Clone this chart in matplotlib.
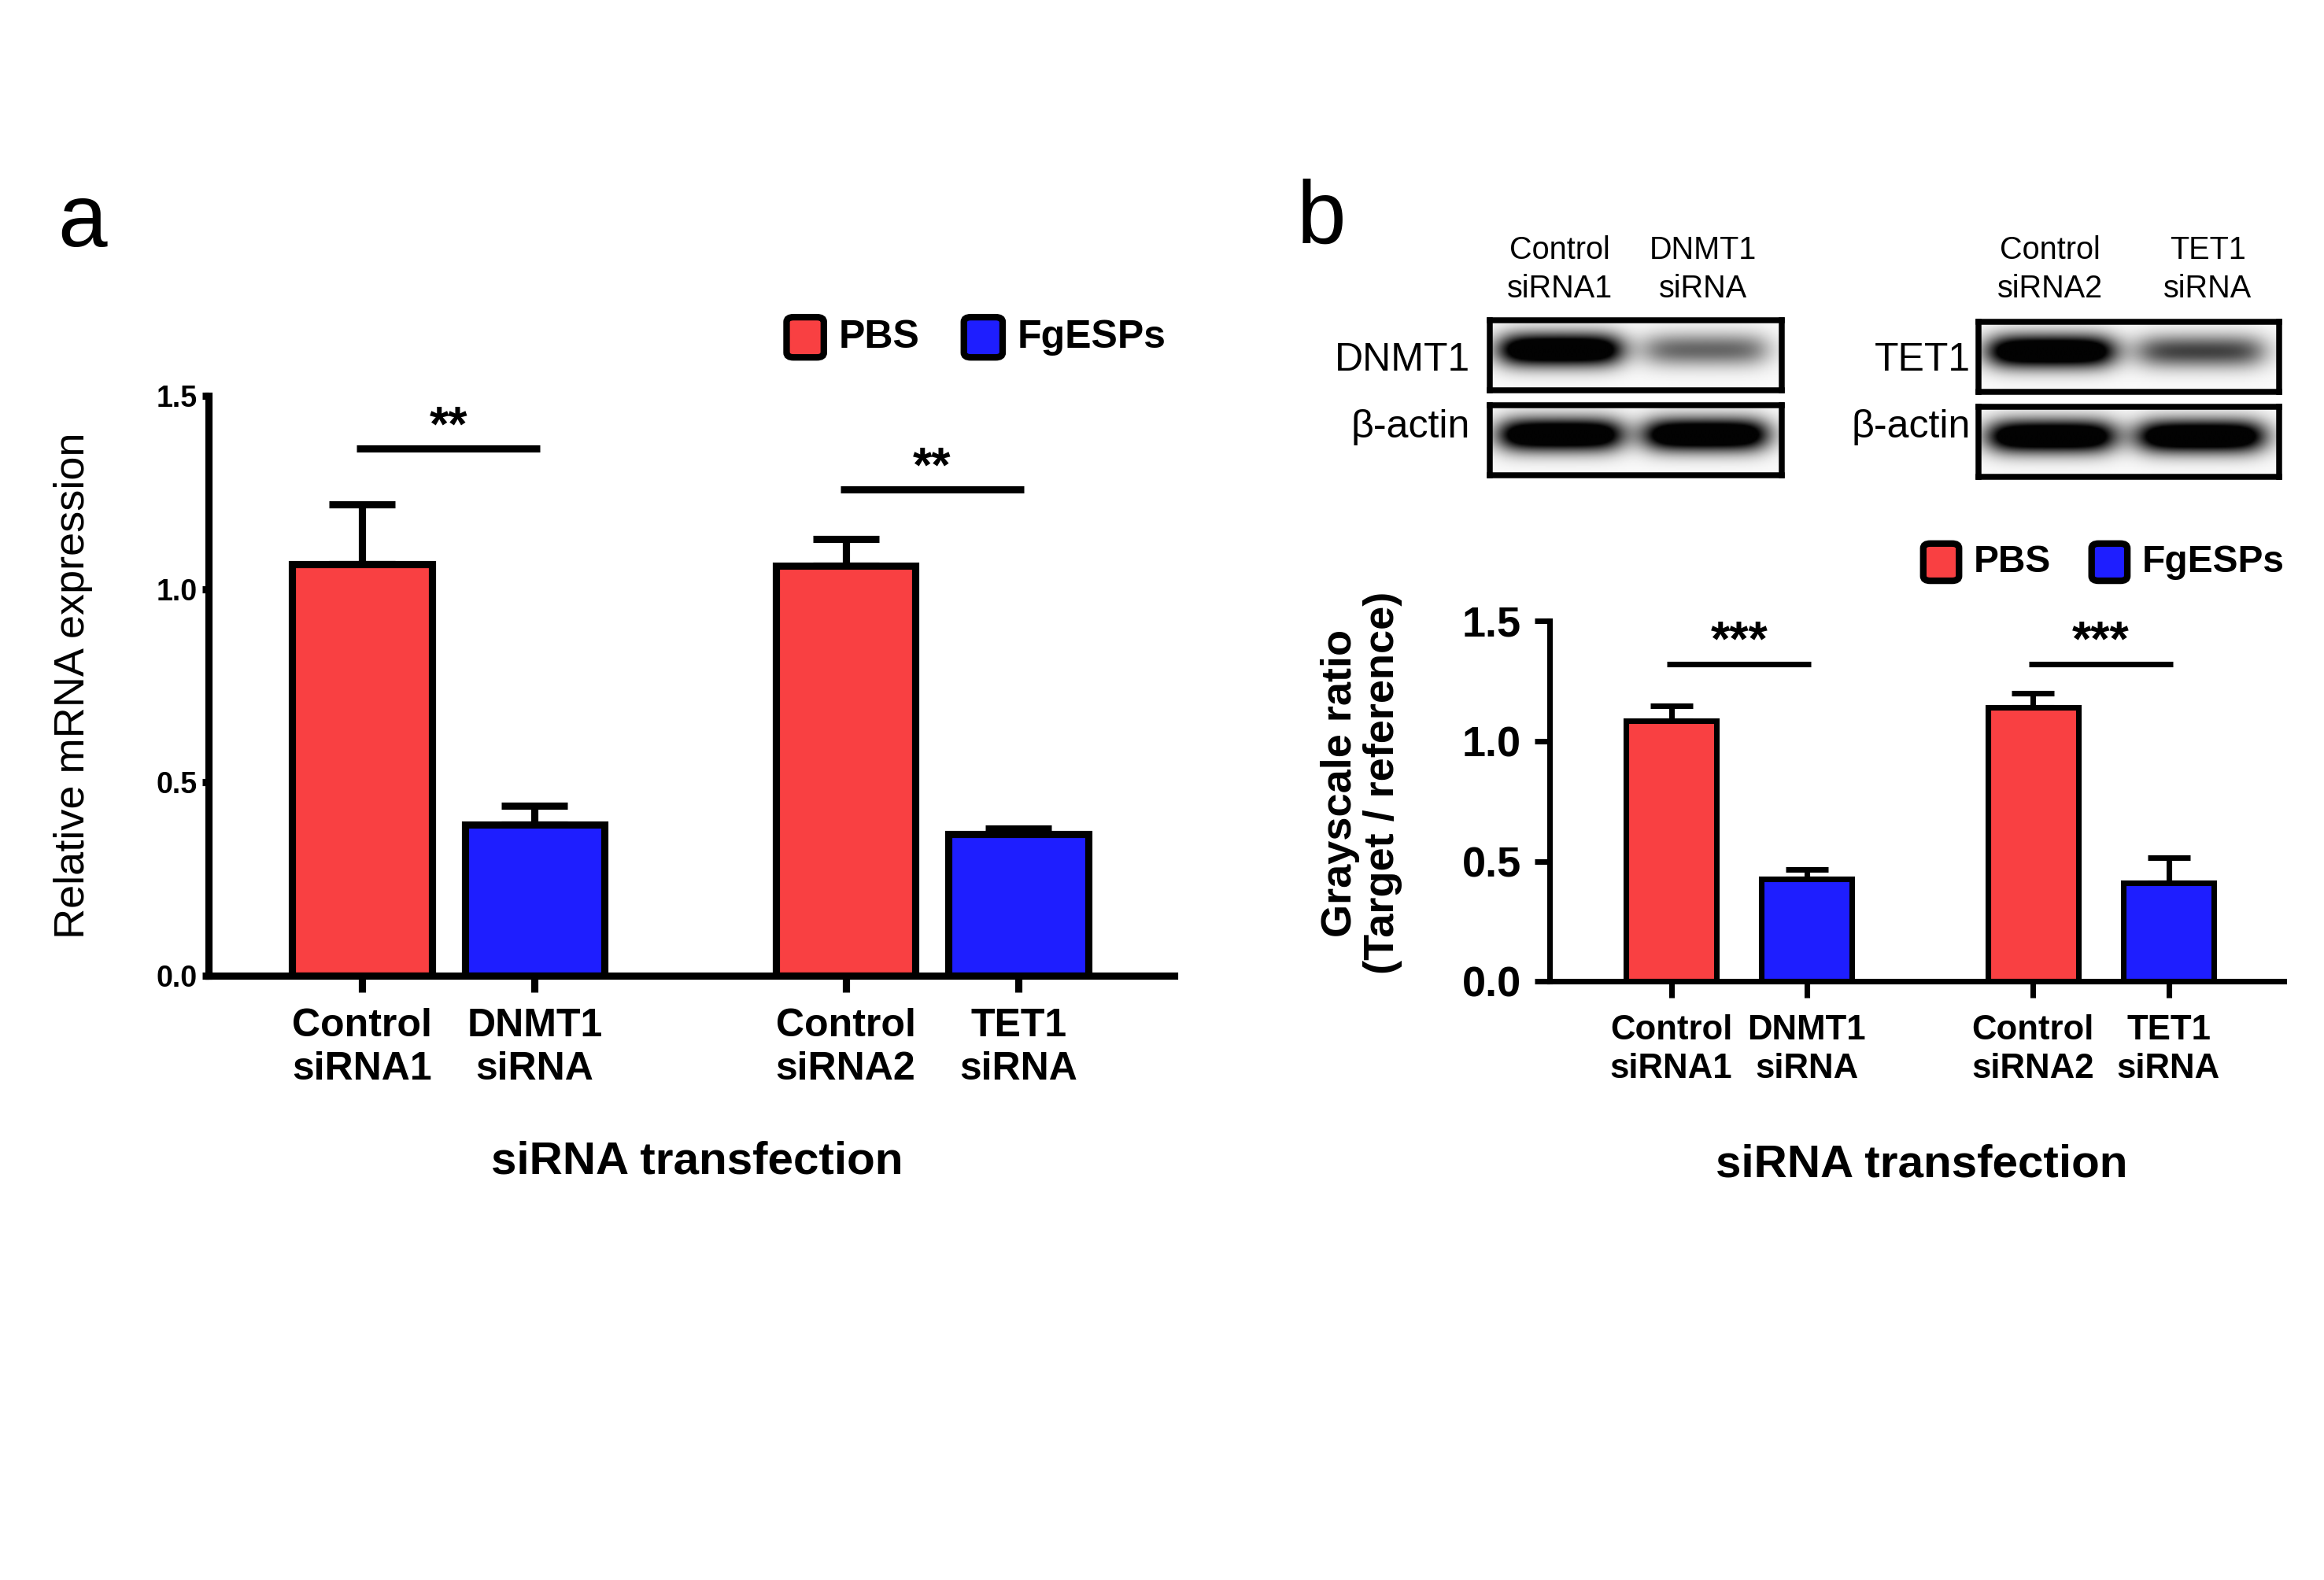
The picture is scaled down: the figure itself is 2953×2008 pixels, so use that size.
"""siRNA knockdown figure: qPCR bars (a) and western blot quantification (b)."""

import matplotlib

matplotlib.use("Agg")
import matplotlib.pyplot as plt
import numpy as np
from matplotlib.patches import FancyBboxPatch

plt.rcParams["font.family"] = ["Liberation Sans", "DejaVu Sans"]

# ---- data -------------------------------------------------------------
categories = ["Control\nsiRNA1", "DNMT1\nsiRNA", "Control\nsiRNA2", "TET1\nsiRNA"]
groups = ["PBS", "FgESPs", "PBS", "FgESPs"]

mrna_mean = [1.065, 0.39, 1.06, 0.365]
mrna_err = [0.155, 0.05, 0.07, 0.015]
mrna_sig = ["**", "**"]
mrna_sig_y = [1.365, 1.258]

gray_mean = [1.085, 0.428, 1.14, 0.41]
gray_err = [0.062, 0.037, 0.06, 0.105]
gray_sig = ["***", "***"]
gray_sig_y = [1.32, 1.32]

yticks = [0.0, 0.5, 1.0, 1.5]

blot_lanes_dnmt1 = ["Control\nsiRNA1", "DNMT1\nsiRNA"]
blot_lanes_tet1 = ["Control\nsiRNA2", "TET1\nsiRNA"]
dnmt1_band = [1.0, 0.4]
tet1_band = [1.0, 0.5]
actin_band_1 = [1.0, 1.0]
actin_band_2 = [1.0, 1.0]

RED = "#F94042"
BLUE = "#1E1EFF"
colors = {"PBS": RED, "FgESPs": BLUE}

W, H = 1560.0, 1061.0  # layout grid in reference display pixels


def fx(x):
    return x / W


def fy(y):
    return 1 - y / H


def rect(x0, y0, x1, y1):
    return [fx(x0), fy(y1), fx(x1) - fx(x0), fy(y0) - fy(y1)]


def bar_panel(fig, box, positions, means, errs, sig, sig_y, xlim, width,
              lw, capsize, tick_size, xtick_size, ylabel, ylabel_kw,
              ylabel_xy, xlabel_xy, ytick_len, ypad):
    ax = fig.add_axes(rect(*box))
    for pos, m, e, g in zip(positions, means, errs, groups):
        ax.errorbar(pos, m, yerr=[[0], [e]], color="black", lw=lw,
                    capsize=capsize, capthick=lw, zorder=1)
        ax.bar(pos, m, width=width, color=colors[g], edgecolor="black",
               linewidth=lw, zorder=2)
    for i, (label, yv) in enumerate(zip(sig, sig_y)):
        left, right = positions[2 * i], positions[2 * i + 1]
        ax.plot([left - 0.03, right + 0.03], [yv, yv], color="black",
                lw=lw, clip_on=False, solid_capstyle="butt")
        ax.text((left + right) / 2, yv - 0.005, label, ha="center",
                va="bottom", fontsize=15, fontweight="bold")
    ax.set_xlim(*xlim)
    ax.set_ylim(0, 1.5)
    ax.set_yticks(yticks)
    ax.set_yticklabels([f"{t:.1f}" for t in yticks], fontsize=tick_size,
                       fontweight="bold")
    ax.set_xticks(positions)
    ax.set_xticklabels(categories, fontsize=xtick_size, fontweight="bold",
                       linespacing=1.25)
    ax.tick_params(axis="x", length=5, width=lw, pad=5)
    ax.tick_params(axis="y", length=ytick_len, width=lw, pad=ypad)
    for side in ("top", "right"):
        ax.spines[side].set_visible(False)
    for side in ("left", "bottom"):
        ax.spines[side].set_linewidth(lw)
    ax.set_ylabel(ylabel, **ylabel_kw)
    ax.yaxis.set_label_coords(*ylabel_xy)
    ax.set_xlabel("siRNA transfection", fontsize=14, fontweight="bold")
    ax.xaxis.set_label_coords(*xlabel_xy)
    return ax


def legend(fig, items, size):
    for (x0, y0, x1, y1), label in items:
        patch = FancyBboxPatch((fx(x0), fy(y1)), fx(x1) - fx(x0),
                               fy(y0) - fy(y1),
                               boxstyle="round,pad=0,rounding_size=0.003",
                               transform=fig.transFigure,
                               facecolor=colors[label], edgecolor="black",
                               linewidth=2.0)
        fig.patches.append(patch)
        fig.text(fx(x1 + 10), fy((y0 + y1) / 2), label, fontsize=size,
                 fontweight="bold", va="center", ha="left")


def band_image(intensities, center=0.42, spread=0.17):
    cols = 200
    rows = 50
    x = np.linspace(0, 1, cols)
    y = np.linspace(0, 1, rows)
    lane_c = [0.24, 0.74]
    img = np.zeros((rows, cols))
    for c, amp in zip(lane_c, intensities):
        horiz = 1 / (1 + np.exp((np.abs(x - c) - 0.2) / 0.03))
        vert = np.exp(-((y - center) / spread) ** 2 / 2)
        img += amp * np.outer(vert, horiz)
    img = np.clip(img * 1.5, 0, 1) * 0.97 + 0.02
    return 1 - img


def blot(fig, box, intensities):
    ax = fig.add_axes(rect(*box))
    ax.imshow(band_image(intensities), cmap="gray", vmin=0, vmax=1,
              aspect="auto", interpolation="bilinear")
    ax.set_xticks([])
    ax.set_yticks([])
    for sp in ax.spines.values():
        sp.set_linewidth(1.8)
    return ax


fig = plt.figure(figsize=(2953 / 300, 2008 / 300), dpi=300)

# ---- panel a ----------------------------------------------------------
pos_a = [0, 1, 2.8, 3.8]
bar_panel(fig, (140, 266, 788, 655), pos_a, mrna_mean, mrna_err, mrna_sig,
          mrna_sig_y, (-0.888, 4.70), 0.81, 2.2, 10, 9, 12,
          "Relative mRNA expression", {"fontsize": 13},
          (-0.12, 0.5), (0.506, -0.285), 2, 1.5)
legend(fig, [((528, 213, 553, 240), "PBS"), ((647, 213, 673, 240), "FgESPs")],
       12)
fig.text(fx(55), fy(150), "a", fontsize=27, ha="center", va="center")

# ---- panel b ----------------------------------------------------------
pos_b = [0, 1, 2.67, 3.67]
bar_panel(fig, (1040, 417, 1533, 659), pos_b, gray_mean, gray_err, gray_sig,
          gray_sig_y, (-0.90, 4.52), 0.67, 1.7, 6.5, 13, 10.5,
          "Grayscale ratio\n(Target / reference)",
          {"fontsize": 13, "fontweight": "bold", "linespacing": 1.1},
          (-0.2, 0.55), (0.507, -0.45), 4.5, 4)
legend(fig, [((1291, 365, 1315, 390), "PBS"),
             ((1404, 365, 1428, 390), "FgESPs")], 11.5)
fig.text(fx(887), fy(148), "b", fontsize=27, ha="center", va="center")

blot(fig, (1000, 215, 1196, 262), dnmt1_band)
blot(fig, (1000, 272, 1196, 319), actin_band_1)
blot(fig, (1328, 216, 1530, 263), tet1_band)
blot(fig, (1328, 273, 1530, 320), actin_band_2)

for xs, lanes in (((1047, 1143), blot_lanes_dnmt1),
                  ((1376, 1482), blot_lanes_tet1)):
    for x, lane in zip(xs, lanes):
        fig.text(fx(x), fy(181), lane, fontsize=9.5, ha="center",
                 va="center", linespacing=1.35)

for x, y, label in ((987, 242, "DNMT1"), (987, 287, "β-actin"),
                    (1323, 242, "TET1"), (1323, 287, "β-actin")):
    fig.text(fx(x), fy(y), label, fontsize=12, ha="right", va="center")

fig.savefig("out.png", dpi=300)
plt.close(fig)
